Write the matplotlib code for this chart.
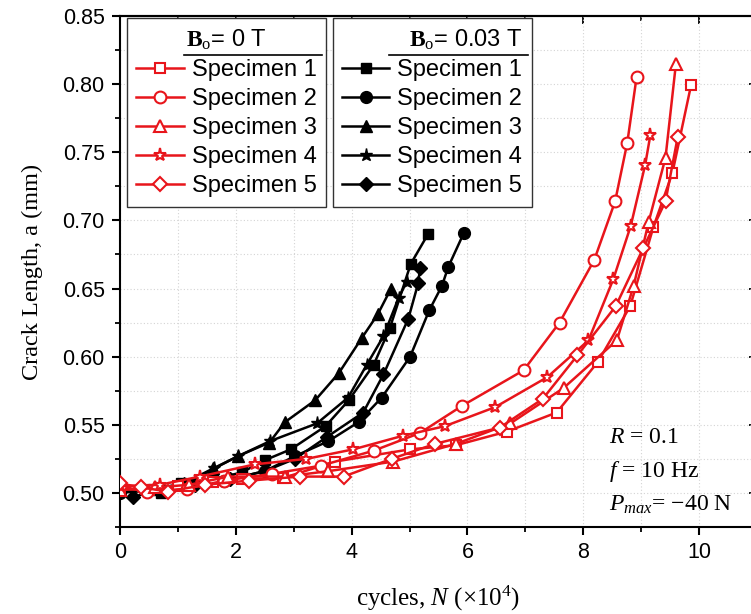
import matplotlib
matplotlib.use("Agg")
import matplotlib.pyplot as plt
from matplotlib.ticker import MultipleLocator, FormatStrFormatter
from matplotlib.lines import Line2D

plt.rcParams['font.family'] = ['Liberation Sans', 'DejaVu Sans']
plt.rcParams['mathtext.fontset'] = 'custom'
plt.rcParams['mathtext.rm'] = 'Liberation Serif'
plt.rcParams['mathtext.it'] = 'Liberation Serif:italic'
plt.rcParams['mathtext.bf'] = 'Liberation Serif:bold'

# ---------------- data (cycles x10^4, crack length mm) ----------------
labels = ['Specimen 1', 'Specimen 2', 'Specimen 3', 'Specimen 4', 'Specimen 5']

# B0 = 0.03 T (black, filled)
b1_x = [0.0, 0.7, 1.05, 1.6, 2.1, 2.5, 2.95, 3.55, 3.95, 4.38, 4.66, 5.02, 5.32]
b1_y = [0.502, 0.500, 0.507, 0.510, 0.515, 0.524, 0.532, 0.549, 0.568, 0.594, 0.621, 0.668, 0.690]
b2_x = [0.0, 0.5, 1.15, 1.8, 2.5, 3.02, 3.6, 4.12, 4.52, 5.01, 5.34, 5.56, 5.67, 5.94]
b2_y = [0.500, 0.502, 0.504, 0.509, 0.516, 0.527, 0.538, 0.552, 0.570, 0.600, 0.634, 0.652, 0.666, 0.691]
b3_x = [0.0, 0.6, 1.1, 1.61, 2.04, 2.58, 2.85, 3.37, 3.78, 4.18, 4.45, 4.68]
b3_y = [0.502, 0.503, 0.507, 0.518, 0.527, 0.537, 0.552, 0.568, 0.588, 0.614, 0.631, 0.650]
b4_x = [0.0, 0.6, 1.1, 1.63, 2.04, 2.59, 3.40, 3.94, 4.26, 4.55, 4.81, 4.95]
b4_y = [0.501, 0.503, 0.506, 0.518, 0.527, 0.538, 0.551, 0.570, 0.594, 0.615, 0.643, 0.655]
b5_x = [0.23, 0.7, 1.3, 1.9, 2.5, 3.02, 3.57, 4.20, 4.55, 4.98, 5.15, 5.18]
b5_y = [0.497, 0.503, 0.506, 0.510, 0.516, 0.525, 0.541, 0.559, 0.587, 0.628, 0.654, 0.665]

# B0 = 0 T (red, open)
r1_x = [0.0, 0.5, 1.0, 1.6, 2.1, 2.82, 3.71, 5.01, 5.80, 6.68, 7.54, 8.25, 8.81, 9.21, 9.54, 9.86]
r1_y = [0.503, 0.502, 0.505, 0.508, 0.510, 0.511, 0.523, 0.532, 0.535, 0.545, 0.559, 0.596, 0.637, 0.695, 0.735, 0.799]
r2_x = [0.0, 0.46, 1.15, 1.8, 2.62, 3.47, 4.38, 5.18, 5.91, 6.97, 7.59, 8.19, 8.55, 8.76, 8.92]
r2_y = [0.505, 0.501, 0.503, 0.509, 0.514, 0.520, 0.531, 0.544, 0.564, 0.590, 0.625, 0.671, 0.714, 0.757, 0.805]
r3_x = [0.0, 0.6, 1.2, 1.87, 2.85, 3.6, 4.72, 5.8, 6.74, 7.66, 8.58, 8.87, 9.13, 9.42, 9.60]
r3_y = [0.502, 0.504, 0.506, 0.512, 0.512, 0.516, 0.523, 0.536, 0.551, 0.577, 0.612, 0.652, 0.699, 0.746, 0.815]
r4_x = [0.0, 0.69, 1.38, 2.33, 3.22, 4.03, 4.89, 5.61, 6.48, 7.38, 8.09, 8.52, 8.82, 9.07, 9.16]
r4_y = [0.505, 0.506, 0.512, 0.521, 0.525, 0.532, 0.542, 0.549, 0.563, 0.585, 0.612, 0.657, 0.696, 0.741, 0.763]
r5_x = [0.0, 0.37, 0.83, 1.47, 2.22, 3.11, 3.86, 4.69, 5.44, 6.56, 7.30, 7.90, 8.56, 9.04, 9.42, 9.63]
r5_y = [0.507, 0.504, 0.501, 0.506, 0.509, 0.512, 0.512, 0.525, 0.536, 0.548, 0.569, 0.601, 0.637, 0.680, 0.714, 0.761]

x_ticks = [0, 2, 4, 6, 8, 10]
y_ticks = [0.50, 0.55, 0.60, 0.65, 0.70, 0.75, 0.80, 0.85]

black_series = [(b1_x, b1_y), (b2_x, b2_y), (b3_x, b3_y), (b4_x, b4_y), (b5_x, b5_y)]
red_series = [(r1_x, r1_y), (r2_x, r2_y), (r3_x, r3_y), (r4_x, r4_y), (r5_x, r5_y)]
markers = ['s', 'o', '^', '*', 'D']
msizes = [7.5, 8.5, 9, 9.5, 7.5]

RED = '#e8151b'

# ---------------- figure ----------------
W, H = 751, 614
fig = plt.figure(figsize=(W / 100, H / 100), dpi=100)
ax = fig.add_axes([120 / W, 87 / H, 637 / W, 511 / H])

black_handles = []
for (xs, ys), m, ms, lab in zip(black_series, markers, msizes, labels):
    h, = ax.plot(xs, ys, color='black', lw=1.8, marker=m, ms=ms,
                 mfc='black', mec='black', mew=1.0, label=lab, zorder=3)
    black_handles.append(h)

red_handles = []
for (xs, ys), m, ms, lab in zip(red_series, markers, msizes, labels):
    h, = ax.plot(xs, ys, color=RED, lw=1.8, marker=m, ms=ms,
                 mfc='white', mec=RED, mew=1.5, label=lab, zorder=4)
    red_handles.append(h)

ax.set_xlim(0, 11)
ax.set_ylim(0.475, 0.85)
ax.set_xticks(x_ticks)
ax.set_yticks(y_ticks)
ax.xaxis.set_minor_locator(MultipleLocator(1))
ax.yaxis.set_minor_locator(MultipleLocator(0.025))
ax.yaxis.set_major_formatter(FormatStrFormatter('%.2f'))
ax.grid(which='both', color='#d4d4d4', linestyle=(0, (1, 2)), linewidth=0.8)
ax.set_axisbelow(True)

ax.tick_params(which='major', direction='out', length=6, width=1.5, labelsize=15.5,
               top=False, right=False, pad=5)
ax.tick_params(which='minor', direction='out', length=3.5, width=1.3, top=False, right=False)
for s in ['left', 'bottom', 'top']:
    ax.spines[s].set_linewidth(1.5)
ax.spines['right'].set_visible(False)

# inward ticks on top and right
secx = ax.secondary_xaxis('top')
secx.set_xticks(x_ticks)
secx.xaxis.set_minor_locator(MultipleLocator(1))
secx.tick_params(which='major', direction='in', length=6, width=1.3, labeltop=False)
secx.tick_params(which='minor', direction='in', length=3.5, width=1.2)
secx.spines['top'].set_linewidth(1.5)
secy = ax.secondary_yaxis('right')
secy.set_yticks(y_ticks)
secy.tick_params(which='major', direction='in', length=6, width=1.3, labelright=False)
secy.spines['right'].set_visible(False)

ax.set_ylabel('Crack Length, a (mm)', family='Liberation Serif', fontsize=17.5, labelpad=14)
ax.set_xlabel(r'cycles, $N$ ($\times$10$^{4}$)', family='Liberation Serif', fontsize=18,
              labelpad=15)

# annotation
ax.text(0.767, 0.176, r'$R$ = 0.1', transform=ax.transAxes, family='Liberation Serif',
        fontsize=17, ha='left', va='center')
ax.text(0.767, 0.109, r'$f$ = 10 Hz', transform=ax.transAxes, family='Liberation Serif',
        fontsize=17, ha='left', va='center')
ax.text(0.767, 0.043, r'$P_{max}$= $-$40 N', transform=ax.transAxes, family='Liberation Serif',
        fontsize=17, ha='left', va='center')

# legends
leg_kw = dict(loc='upper left', fontsize=17, frameon=True, fancybox=False, framealpha=1,
              edgecolor='#333333', handlelength=2.0, handletextpad=0.34, labelspacing=0.3,
              borderpad=0.4, borderaxespad=0, title_fontsize=17)
leg1 = ax.legend(handles=red_handles, bbox_to_anchor=(0.011, 0.996),
                 title=r'$\mathbf{B}_{\mathrm{o}}$= 0 T', **leg_kw)
leg1.get_frame().set_linewidth(1.0)
ax.add_artist(leg1)
leg2 = ax.legend(handles=black_handles, bbox_to_anchor=(0.334, 0.996),
                 title=r'$\mathbf{B}_{\mathrm{o}}$= 0.03 T', alignment='right', **leg_kw)
leg2.get_frame().set_linewidth(1.0)

fig.canvas.draw()
r = fig.canvas.get_renderer()
inv = fig.transFigure.inverted()
for leg in (leg1, leg2):
    tb = leg.get_title().get_window_extent(r)
    t0 = leg.get_texts()[0].get_window_extent(r)
    fb = leg.get_frame().get_window_extent(r)
    ymid = (tb.y0 + t0.y1) / 2
    x0 = t0.x0 - 8
    x1 = fb.x1 - 4
    (fx0, fy), (fx1, _) = inv.transform([(x0, ymid), (x1, ymid)])
    fig.add_artist(Line2D([fx0, fx1], [fy, fy], transform=fig.transFigure,
                          color='black', lw=1.2))

fig.savefig('out.png', dpi=100)
